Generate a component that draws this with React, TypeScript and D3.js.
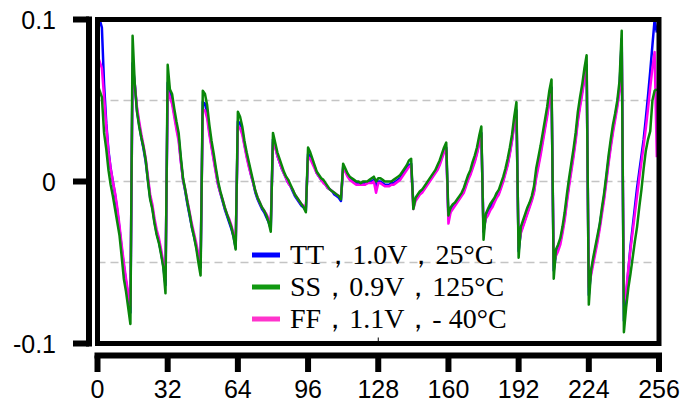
import React from 'react';
import * as d3 from 'd3';

// code index 0..255
const codes = d3.range(256);

// TT, 1.0V, 25C (blue)
const ttValues = [
  0.100, 0.100, 0.095, 0.060, 0.036, 0.019, 0.008, 0.000, -0.008, -0.018, -0.029, -0.041, -0.052, -0.062, -0.071, -0.081,
  0.073, 0.060, 0.044, 0.035, 0.027, 0.020, 0.012, 0.001, -0.010, -0.016, -0.025, -0.032, -0.037, -0.044, -0.052, -0.064,
  0.061, 0.055, 0.050, 0.042, 0.034, 0.027, 0.013, 0.001, -0.006, -0.014, -0.021, -0.028, -0.034, -0.040, -0.047, -0.053,
  0.049, 0.048, 0.042, 0.031, 0.022, 0.014, 0.006, -0.002, -0.007, -0.012, -0.017, -0.021, -0.025, -0.029, -0.034, -0.041,
  0.037, 0.036, 0.031, 0.023, 0.016, 0.010, 0.004, -0.001, -0.007, -0.011, -0.014, -0.017, -0.019, -0.022, -0.025, -0.029,
  0.026, 0.022, 0.016, 0.012, 0.008, 0.005, 0.002, -0.001, -0.003, -0.006, -0.009, -0.011, -0.013, -0.015, -0.016, -0.018,
  0.017, 0.016, 0.012, 0.009, 0.005, 0.003, 0.001, 0.000, -0.002, -0.004, -0.005, -0.006, -0.008, -0.009, -0.010, -0.012,
  0.009, 0.007, 0.004, 0.002, 0.001, 0.000, -0.001, -0.001, -0.002, -0.001, -0.001, -0.001, 0.000, 0.000, 0.001, -0.003,
  0.000, 0.000, -0.001, -0.002, -0.002, -0.002, -0.001, -0.001, 0.000, 0.001, 0.002, 0.004, 0.006, 0.008, 0.010, 0.011,
  -0.014, -0.011, -0.009, -0.007, -0.006, -0.004, -0.002, 0.000, 0.002, 0.004, 0.006, 0.008, 0.011, 0.015, 0.019, 0.021,
  -0.023, -0.018, -0.016, -0.014, -0.012, -0.010, -0.008, -0.006, -0.002, 0.002, 0.005, 0.009, 0.013, 0.018, 0.024, 0.030,
  -0.031, -0.022, -0.019, -0.016, -0.014, -0.012, -0.009, -0.007, -0.003, 0.001, 0.006, 0.011, 0.018, 0.026, 0.036, 0.044,
  -0.043, -0.031, -0.027, -0.023, -0.019, -0.015, -0.011, -0.006, 0.004, 0.011, 0.018, 0.026, 0.034, 0.042, 0.051, 0.058,
  -0.055, -0.045, -0.041, -0.037, -0.030, -0.022, -0.011, -0.001, 0.008, 0.017, 0.027, 0.039, 0.048, 0.056, 0.065, 0.072,
  -0.070, -0.056, -0.049, -0.042, -0.035, -0.027, -0.018, -0.009, 0.002, 0.013, 0.023, 0.032, 0.040, 0.048, 0.058, 0.088,
  -0.086, -0.072, -0.055, -0.040, -0.028, -0.016, -0.004, 0.006, 0.016, 0.026, 0.039, 0.053, 0.068, 0.084, 0.100, 0.092,
];

// SS, 0.9V, 125C (green)
const ssValues = [
  0.060, 0.056, 0.052, 0.030, 0.020, 0.007, -0.002, -0.009, -0.017, -0.025, -0.033, -0.046, -0.060, -0.068, -0.078, -0.088,
  0.090, 0.060, 0.043, 0.034, 0.027, 0.021, 0.013, 0.000, -0.011, -0.017, -0.026, -0.033, -0.038, -0.045, -0.053, -0.069,
  0.072, 0.057, 0.054, 0.045, 0.037, 0.030, 0.015, 0.002, -0.005, -0.013, -0.020, -0.028, -0.034, -0.041, -0.050, -0.058,
  0.056, 0.054, 0.047, 0.035, 0.025, 0.017, 0.008, 0.000, -0.006, -0.011, -0.016, -0.020, -0.024, -0.028, -0.034, -0.042,
  0.043, 0.040, 0.034, 0.025, 0.018, 0.012, 0.006, 0.000, -0.006, -0.010, -0.013, -0.016, -0.018, -0.021, -0.025, -0.031,
  0.030, 0.024, 0.018, 0.014, 0.010, 0.006, 0.003, 0.001, -0.002, -0.005, -0.008, -0.010, -0.012, -0.014, -0.016, -0.019,
  0.021, 0.018, 0.014, 0.010, 0.006, 0.004, 0.002, 0.001, -0.001, -0.003, -0.005, -0.006, -0.007, -0.008, -0.009, -0.011,
  0.011, 0.008, 0.005, 0.003, 0.002, 0.001, 0.000, 0.000, -0.001, 0.000, 0.000, 0.000, 0.001, 0.002, 0.003, 0.000,
  0.002, 0.002, 0.001, 0.000, 0.000, 0.000, 0.000, 0.001, 0.002, 0.003, 0.004, 0.006, 0.008, 0.010, 0.013, 0.014,
  -0.017, -0.010, -0.008, -0.006, -0.005, -0.003, -0.001, 0.001, 0.003, 0.005, 0.007, 0.010, 0.013, 0.017, 0.021, 0.024,
  -0.021, -0.016, -0.014, -0.013, -0.011, -0.009, -0.007, -0.004, 0.000, 0.004, 0.007, 0.012, 0.016, 0.021, 0.028, 0.034,
  -0.036, -0.020, -0.017, -0.014, -0.012, -0.010, -0.007, -0.005, -0.001, 0.003, 0.008, 0.014, 0.021, 0.029, 0.040, 0.049,
  -0.047, -0.028, -0.024, -0.020, -0.016, -0.013, -0.009, -0.003, 0.008, 0.015, 0.022, 0.030, 0.038, 0.046, 0.056, 0.063,
  -0.060, -0.042, -0.039, -0.035, -0.028, -0.019, -0.008, 0.002, 0.011, 0.020, 0.030, 0.043, 0.052, 0.060, 0.070, 0.078,
  -0.076, -0.055, -0.047, -0.040, -0.033, -0.026, -0.016, -0.007, 0.004, 0.016, 0.026, 0.035, 0.042, 0.050, 0.062, 0.093,
  -0.093, -0.078, -0.066, -0.057, -0.047, -0.037, -0.028, -0.016, -0.005, 0.008, 0.019, 0.026, 0.031, 0.050, 0.056, 0.057,
];

// FF, 1.1V, -40C (magenta)
const ffValues = [
  0.078, 0.074, 0.070, 0.052, 0.034, 0.018, 0.008, 0.000, -0.007, -0.016, -0.027, -0.039, -0.050, -0.060, -0.069, -0.077,
  0.070, 0.060, 0.046, 0.037, 0.029, 0.022, 0.014, 0.003, -0.008, -0.014, -0.023, -0.030, -0.035, -0.042, -0.050, -0.060,
  0.056, 0.052, 0.048, 0.040, 0.032, 0.025, 0.012, 0.001, -0.005, -0.012, -0.019, -0.026, -0.032, -0.038, -0.045, -0.050,
  0.044, 0.044, 0.039, 0.029, 0.021, 0.013, 0.005, -0.002, -0.007, -0.011, -0.016, -0.020, -0.023, -0.027, -0.032, -0.038,
  0.034, 0.033, 0.029, 0.022, 0.015, 0.009, 0.004, -0.001, -0.006, -0.010, -0.013, -0.016, -0.018, -0.020, -0.023, -0.026,
  0.024, 0.021, 0.016, 0.012, 0.008, 0.005, 0.002, -0.001, -0.003, -0.005, -0.008, -0.010, -0.012, -0.014, -0.015, -0.016,
  0.015, 0.014, 0.011, 0.008, 0.005, 0.003, 0.001, -0.001, -0.002, -0.004, -0.005, -0.006, -0.007, -0.008, -0.009, -0.010,
  0.008, 0.006, 0.003, 0.001, 0.000, -0.001, -0.002, -0.002, -0.002, -0.002, -0.002, -0.001, -0.001, -0.001, 0.000, -0.007,
  -0.001, -0.001, -0.002, -0.003, -0.003, -0.003, -0.002, -0.002, -0.001, 0.000, 0.001, 0.003, 0.005, 0.007, 0.009, 0.010,
  -0.017, -0.012, -0.010, -0.008, -0.007, -0.005, -0.003, -0.001, 0.001, 0.003, 0.005, 0.007, 0.010, 0.014, 0.018, 0.020,
  -0.026, -0.019, -0.017, -0.015, -0.013, -0.011, -0.009, -0.007, -0.003, 0.001, 0.004, 0.008, 0.012, 0.017, 0.023, 0.029,
  -0.030, -0.023, -0.021, -0.018, -0.016, -0.013, -0.010, -0.008, -0.004, 0.000, 0.005, 0.010, 0.017, 0.025, 0.035, 0.042,
  -0.040, -0.032, -0.028, -0.024, -0.020, -0.016, -0.012, -0.007, 0.002, 0.009, 0.016, 0.024, 0.032, 0.040, 0.049, 0.056,
  -0.050, -0.046, -0.043, -0.039, -0.032, -0.024, -0.013, -0.003, 0.006, 0.015, 0.025, 0.037, 0.046, 0.054, 0.063, 0.070,
  -0.065, -0.058, -0.051, -0.044, -0.037, -0.029, -0.020, -0.011, 0.000, 0.011, 0.021, 0.030, 0.038, 0.046, 0.056, 0.085,
  -0.075, -0.068, -0.054, -0.042, -0.031, -0.020, -0.009, 0.002, 0.012, 0.022, 0.033, 0.045, 0.058, 0.070, 0.080, 0.015,
];

const xTicks = [0, 32, 64, 96, 128, 160, 192, 224, 256];
const yTicks = [0.1, 0, -0.1];
const yTickLabels = ['0.1', '0', '-0.1'];
const gridValues = [0.05, 0, -0.05];
const legendLabels = ['TT，1.0V，25°C', 'SS，0.9V，125°C', 'FF，1.1V，- 40°C'];
const legendColors = ['#0000ff', '#119911', '#ff33cc'];

const W = 686;
const H = 404;

export default function App() {
  const x = d3.scaleLinear().domain([0, 256]).range([97.5, 659]);
  const y = d3.scaleLinear().domain([-0.1, 0.1]).range([343.5, 19.5]);

  const line = d3
    .line<number>()
    .x((d, i) => x(codes[i]))
    .y((d) => y(d));

  // draw order: blue under magenta under green
  const series = [
    { values: ttValues, color: '#0000ff' },
    { values: ffValues, color: '#ff00ee' },
    { values: ssValues, color: '#0a870a' },
  ];

  const axisFont = '"Liberation Sans", Arial, Helvetica, sans-serif';
  const legendFont = '"Liberation Serif", "Times New Roman", serif';

  return (
    <div style={{ position: 'absolute', left: 0, top: 0, background: 'white' }}>
      <svg width={W} height={H}>
        <rect x={0} y={0} width={W} height={H} fill="white" />

        {/* dashed grid */}
        {gridValues.map((g) => (
          <line
            key={g}
            x1={x(0)}
            x2={x(256)}
            y1={y(g)}
            y2={y(g)}
            stroke="#c4c4c4"
            strokeWidth={1.5}
            strokeDasharray="8,5"
          />
        ))}

        {series.map((s) => (
          <path
            key={s.color}
            d={line(s.values) || ''}
            fill="none"
            stroke={s.color}
            strokeWidth={2.5}
            strokeLinejoin="round"
          />
        ))}

        {/* plot frame */}
        <rect
          x={x(0)}
          y={y(0.1)}
          width={x(256) - x(0)}
          height={y(-0.1) - y(0.1)}
          fill="none"
          stroke="black"
          strokeWidth={5}
        />
        <line x1={x(128)} x2={x(128)} y1={y(-0.1) - 6} y2={y(-0.1)} stroke="black" strokeWidth={1} />

        {/* legend */}
        {legendLabels.map((label, i) => (
          <g key={label} transform={`translate(0,${255 + i * 32})`}>
            <line x1={252} x2={280} y1={0} y2={0} stroke={legendColors[i]} strokeWidth={5} />
            <text x={290} y={9} fontFamily={legendFont} fontSize={28} fill="black">
              {label}
            </text>
          </g>
        ))}

        {/* y axis */}
        <line x1={89} x2={89} y1={y(0.1) - 3} y2={y(-0.1) + 3} stroke="black" strokeWidth={6} />
        {yTicks.map((t, i) => (
          <g key={t}>
            <line x1={73} x2={89} y1={y(t)} y2={y(t)} stroke="black" strokeWidth={6} />
            <text
              x={56}
              y={y(t) + 9}
              textAnchor="end"
              fontFamily={axisFont}
              fontSize={25}
              fill="black"
            >
              {yTickLabels[i]}
            </text>
          </g>
        ))}

        {/* x axis */}
        <line x1={x(0) - 3} x2={x(256) + 3} y1={355.5} y2={355.5} stroke="black" strokeWidth={6} />
        {xTicks.map((t) => (
          <g key={t}>
            <line x1={x(t)} x2={x(t)} y1={355.5} y2={372} stroke="black" strokeWidth={6} />
            <text
              x={x(t)}
              y={398}
              textAnchor="middle"
              fontFamily={axisFont}
              fontSize={25}
              fill="black"
            >
              {t}
            </text>
          </g>
        ))}
      </svg>
    </div>
  );
}
